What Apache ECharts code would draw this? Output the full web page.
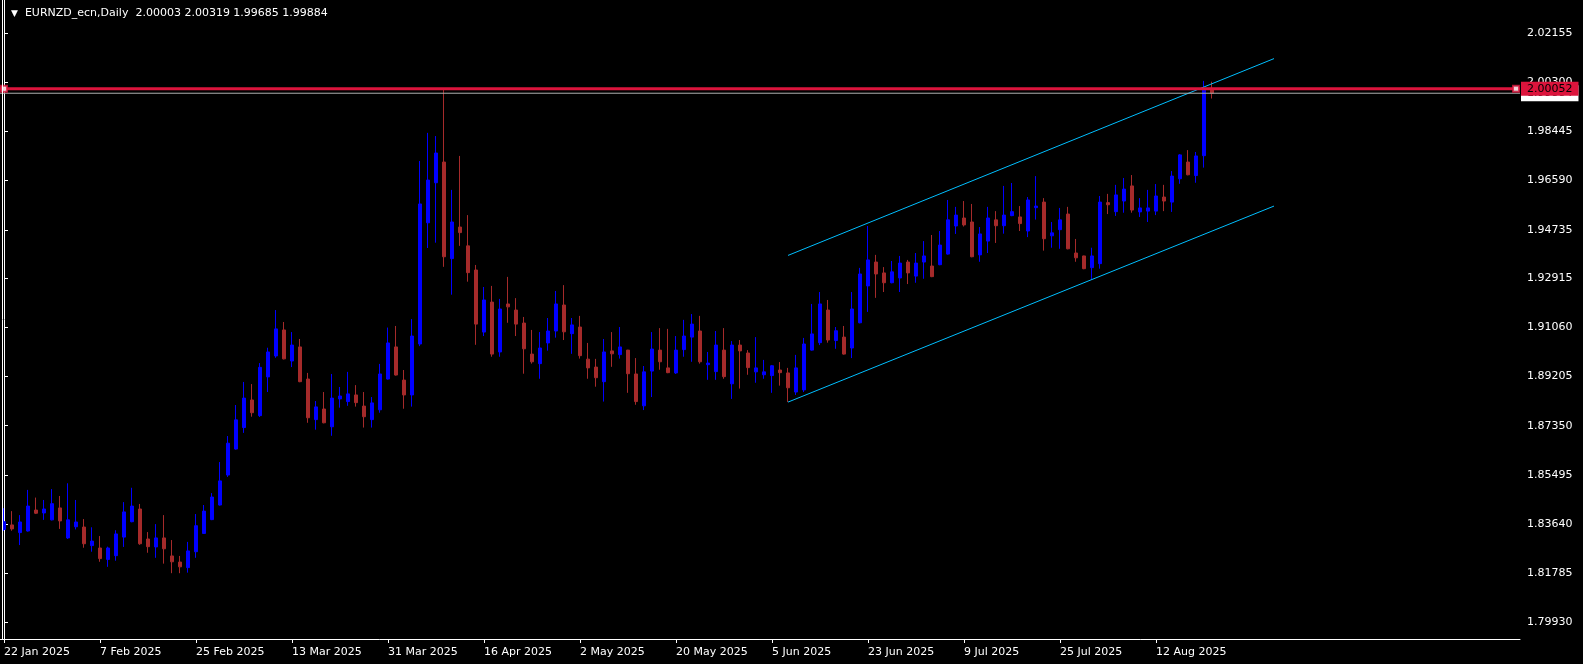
<!DOCTYPE html>
<html><head><meta charset="utf-8">
<script src="https://cdn.jsdelivr.net/npm/echarts@6/dist/echarts.min.js"></script>
<style>html,body{margin:0;padding:0;background:#000;}#c{width:1583px;height:664px;}</style>
</head><body><div id="c"></div>
<script>
const symbolName = 'EURNZD_ecn,Daily';
const firstDay = '2025-01-22';
const totalSlots = 190;

const open = [1.8344,1.8361,1.8332,1.8338,1.8417,1.8406,1.8380,1.8425,1.8312,1.8354,
1.8353,1.8283,1.8274,1.8231,1.8245,1.8315,1.8373,1.8421,1.8308,1.8278,
1.8312,1.8244,1.8221,1.8200,1.8260,1.8329,1.8381,1.8436,1.8549,1.8647,
1.8728,1.8832,1.8773,1.8919,1.8998,1.9096,1.8979,1.9032,1.8911,1.8758,
1.8798,1.8731,1.8836,1.8826,1.8851,1.8809,1.8758,1.8795,1.8911,1.9032,
1.8907,1.8851,1.9043,1.9500,1.9651,1.9729,1.9365,1.9484,1.9413,1.9322,
1.9088,1.9201,1.9013,1.9194,1.9171,1.9122,1.9005,1.8969,1.9047,1.9092,
1.9190,1.9082,1.9107,1.8986,1.8956,1.8901,1.9017,1.9003,1.9020,1.8930,
1.8810,1.8941,1.9020,1.8953,1.8934,1.9022,1.9069,1.9092,1.8965,1.8939,
1.9020,1.8893,1.9039,1.9009,1.8938,1.8927,1.8924,1.8945,1.8934,1.8862,
1.8870,1.9020,1.9048,1.9171,1.9056,1.9069,1.9028,1.9123,1.9262,1.9352,
1.9311,1.9274,1.9292,1.9352,1.9299,1.9352,1.9337,1.9342,1.9382,1.9488,
1.9518,1.9503,1.9379,1.9431,1.9511,1.9489,1.9527,1.9522,1.9469,1.9557,
1.9578,1.9451,1.9474,1.9533,1.9386,1.9375,1.9331,1.9346,1.9576,1.9542,
1.9582,1.9639,1.9541,1.9544,1.9544,1.9597,1.9578,1.9666,1.9729,1.9678,
1.9753,2.00003];

const close = [1.8373,1.8346,1.8372,1.8432,1.8405,1.8421,1.8441,1.8376,1.8380,1.8372,
1.8290,1.8300,1.8234,1.8274,1.8327,1.8410,1.8432,1.8290,1.8279,1.8312,
1.8271,1.8222,1.8203,1.8263,1.8358,1.8413,1.8466,1.8527,1.8669,1.8757,
1.8839,1.8784,1.8955,1.9013,1.9100,1.8987,1.9039,1.8901,1.8765,1.8806,
1.8746,1.8839,1.8847,1.8855,1.8822,1.8769,1.8821,1.8930,1.9047,1.8926,
1.8851,1.9073,1.9571,1.9661,1.9763,1.9372,1.9503,1.9463,1.9312,1.9118,
1.9209,1.9005,1.9175,1.9183,1.9118,1.9025,1.8976,1.9028,1.9092,1.9194,
1.9089,1.9115,1.8999,1.8953,1.8916,1.9013,1.9006,1.9032,1.8931,1.8826,
1.8938,1.9024,1.8976,1.8935,1.9020,1.9073,1.9118,1.8976,1.8971,1.9039,
1.8920,1.9039,1.9017,1.8954,1.8953,1.8938,1.8961,1.8935,1.8878,1.8953,
1.9043,1.9081,1.9194,1.9058,1.9093,1.9005,1.9175,1.9307,1.9360,1.9307,
1.9274,1.9315,1.9348,1.9311,1.9348,1.9375,1.9297,1.9416,1.9511,1.9529,
1.9492,1.9372,1.9458,1.9518,1.9489,1.9529,1.9542,1.9497,1.9586,1.9563,
1.9440,1.9462,1.9511,1.9402,1.9368,1.9327,1.9375,1.9578,1.9568,1.9605,
1.9627,1.9548,1.9556,1.9556,1.9601,1.9582,1.9676,1.9756,1.9681,1.9752,
2.0000,1.99884];

const low = [1.8338,1.8339,1.8285,1.8336,1.8402,1.8380,1.8378,1.8346,1.8308,1.8344,
1.8275,1.8260,1.8222,1.8203,1.8226,1.8278,1.8371,1.8286,1.8256,1.8237,
1.8215,1.8179,1.8179,1.8181,1.8237,1.8327,1.8379,1.8434,1.8542,1.8645,
1.8708,1.8769,1.8768,1.8862,1.8991,1.8985,1.8956,1.8899,1.8746,1.8720,
1.8744,1.8697,1.8803,1.8810,1.8807,1.8728,1.8728,1.8784,1.8909,1.8924,
1.8799,1.8807,1.9035,1.9405,1.9425,1.9334,1.9229,1.9413,1.9278,1.9040,
1.9073,1.8995,1.8995,1.9123,1.9073,1.8931,1.8969,1.8912,1.9018,1.9067,
1.9058,1.9006,1.8988,1.8912,1.8882,1.8826,1.8957,1.8988,1.8859,1.8814,
1.8794,1.8843,1.8946,1.8933,1.8930,1.8995,1.8976,1.8969,1.8908,1.8908,
1.8912,1.8836,1.8875,1.8927,1.8897,1.8912,1.8859,1.8886,1.8824,1.8851,
1.8862,1.9018,1.9039,1.9048,1.9025,1.9003,1.8990,1.9121,1.9164,1.9217,
1.9239,1.9272,1.9239,1.9269,1.9274,1.9289,1.9295,1.9340,1.9380,1.9458,
1.9486,1.9370,1.9353,1.9386,1.9424,1.9459,1.9525,1.9469,1.9446,1.9512,
1.9395,1.9406,1.9402,1.9400,1.9353,1.9325,1.9285,1.9327,1.9533,1.9526,
1.9538,1.9538,1.9522,1.9503,1.9529,1.9544,1.9541,1.9647,1.9679,1.9651,
1.9708,1.99685];

const high = [1.8424,1.8413,1.8398,1.8493,1.8464,1.8455,1.8496,1.8470,1.8518,1.8455,
1.8383,1.8352,1.8319,1.8279,1.8341,1.8447,1.8501,1.8440,1.8334,1.8364,
1.8398,1.8304,1.8244,1.8297,1.8402,1.8436,1.8481,1.8598,1.8696,1.8813,
1.8900,1.8892,1.8971,1.9029,1.9171,1.9126,1.9088,1.9062,1.8934,1.8828,
1.8862,1.8930,1.8881,1.8938,1.8888,1.8862,1.8843,1.8968,1.9105,1.9111,
1.8945,1.9137,1.9733,1.9839,1.9827,2.0001,1.9624,1.9752,1.9529,1.9341,
1.9258,1.9262,1.9213,1.9296,1.9216,1.9145,1.9096,1.9088,1.9141,1.9243,
1.9265,1.9141,1.9149,1.9047,1.8987,1.9062,1.9088,1.9107,1.9021,1.8990,
1.8960,1.9088,1.9103,1.9100,1.9073,1.9134,1.9156,1.9149,1.9013,1.9092,
1.9103,1.9054,1.9058,1.9020,1.9069,1.8983,1.8964,1.8975,1.8953,1.9002,
1.9066,1.9194,1.9239,1.9209,1.9107,1.9111,1.9239,1.9330,1.9488,1.9379,
1.9333,1.9356,1.9375,1.9360,1.9386,1.9431,1.9454,1.9469,1.9586,1.9560,
1.9582,1.9571,1.9484,1.9560,1.9544,1.9639,1.9650,1.9563,1.9597,1.9676,
1.9593,1.9503,1.9556,1.9560,1.9439,1.9376,1.9406,1.9601,1.9609,1.9643,
1.9669,1.9680,1.9593,1.9624,1.9646,1.9643,1.9695,1.9759,1.9774,1.9767,
2.0035,2.00319];

const yTickValues = [1.79930,1.81785,1.83640,1.85495,1.87350,1.89205,1.91060,1.92915,1.94735,1.96590,1.98445,2.00300,2.02155];
const yTickLabels = ['1.79930','1.81785','1.83640','1.85495','1.87350','1.89205','1.91060','1.92915','1.94735','1.96590','1.98445','2.00300','2.02155'];
const xTickLabels = ['22 Jan 2025','7 Feb 2025','25 Feb 2025','13 Mar 2025','31 Mar 2025','16 Apr 2025','2 May 2025','20 May 2025','5 Jun 2025','23 Jun 2025','9 Jul 2025','25 Jul 2025','12 Aug 2025'];
const xTickEvery = 12;
const hLinePrice = 2.00052;
const channelUpper = [[98, 1.9377], [158.75, 2.0119]];
const channelLower = [[98, 1.8824], [158.75, 1.9563]];

const FONT = 'DejaVu Sans';
const n = open.length;
const categories = [];
const d = new Date(firstDay + 'T00:00:00Z');
while (categories.length < n) {
  const wd = d.getUTCDay();
  if (wd !== 0 && wd !== 6) categories.push(d.toISOString().slice(0, 10));
  d.setUTCDate(d.getUTCDate() + 1);
}
for (let i = n; i < totalSlots; i++) categories.push('_' + i);
const candles = open.map((o, i) => [o, close[i], low[i], high[i]]);
const last = n - 1;
const bid = close[last];
const header = '{t|▼}  ' + symbolName + '  ' +
  [open[last], high[last], low[last], close[last]].map(v => v.toFixed(5)).join(' ');
const showTick = (i) => i % xTickEvery === 0 && i < n;
const xLo = -0.5, xHi = totalSlots - 0.5;

const chart = echarts.init(document.getElementById('c'), null, {renderer: 'canvas'});
chart.setOption({
  backgroundColor: '#000000',
  animation: false,
  textStyle: {fontFamily: FONT},
  title: {
    text: header, left: 6, top: 3,
    textStyle: {color: '#ffffff', fontSize: 11, fontWeight: 'normal', fontFamily: FONT,
      rich: {t: {fontSize: 9, color: '#ffffff', fontFamily: FONT}}}
  },
  grid: {left: 0, top: 0, width: 1520, height: 639, containLabel: false},
  xAxis: [
    {
      type: 'category', data: categories, boundaryGap: true,
      axisLine: {show: true, lineStyle: {color: '#ffffff', width: 1}},
      axisTick: {show: true, alignWithLabel: true, interval: (i) => showTick(i), length: 4, lineStyle: {color: '#ffffff'}},
      axisLabel: {show: true, interval: (i) => showTick(i), formatter: (v, i) => xTickLabels[i / xTickEvery] || '',
        color: '#ffffff', fontSize: 11, align: 'left', margin: 8, fontFamily: FONT},
      splitLine: {show: false}
    },
    {type: 'value', min: xLo, max: xHi, show: false}
  ],
  yAxis: {
    type: 'value', position: 'right', min: 1.79309, max: 2.03399,
    axisLine: {show: true, lineStyle: {color: '#ffffff', width: 1}},
    axisTick: {show: true, customValues: yTickValues, length: 4, lineStyle: {color: '#ffffff'}},
    axisLabel: {show: true, customValues: yTickValues, color: '#ffffff', fontSize: 11, margin: 7, fontFamily: FONT,
      formatter: (v) => {
        let best = 0;
        yTickValues.forEach((t, k) => { if (Math.abs(t - v) < Math.abs(yTickValues[best] - v)) best = k; });
        return yTickLabels[best];
      }},
    splitLine: {show: false}
  },
  series: [
    {
      type: 'candlestick', data: candles, barWidth: 4, silent: true, z: 2,
      itemStyle: {color: '#0000ff', color0: '#a52a2a', borderColor: '#0000ff', borderColor0: '#a52a2a', borderWidth: 1}
    },
    {
      name: 'bid', type: 'line', xAxisIndex: 1, data: [[xLo, bid], [xHi, bid]], symbol: 'none', silent: true, z: 4,
      clip: false,
      lineStyle: {color: '#b0b0b0', width: 1},
      endLabel: {show: true, distance: 1, formatter: () => bid.toFixed(5),
        backgroundColor: '#ffffff', color: '#000000', fontSize: 11, fontFamily: FONT, padding: [3, 6, 2, 6]}
    },
    {
      type: 'line', xAxisIndex: 1, data: channelUpper, symbol: 'none', silent: true, z: 3,
      lineStyle: {color: '#00bfff', width: 1}
    },
    {
      name: 'hline', type: 'line', xAxisIndex: 1, data: [[xLo, hLinePrice], [xHi, hLinePrice]], symbol: 'none', silent: true, z: 6,
      clip: false,
      lineStyle: {color: '#dc143c', width: 3},
      endLabel: {show: true, distance: 1, formatter: () => hLinePrice.toFixed(5),
        backgroundColor: '#dc143c', color: '#000000', fontSize: 11, fontFamily: FONT, padding: [2, 6, 1, 6]}
    },
    {
      type: 'line', xAxisIndex: 1, data: channelLower, symbol: 'none', silent: true, z: 3,
      lineStyle: {color: '#00bfff', width: 1}
    },
    {
      type: 'scatter', xAxisIndex: 1, data: [[0, hLinePrice], [totalSlots - 1, hLinePrice]],
      symbol: 'rect', symbolSize: 6, silent: true, z: 7,
      itemStyle: {color: '#ffffff', borderColor: '#dc143c', borderWidth: 2}
    },
    {
      type: 'line', xAxisIndex: 1, data: [], silent: true,
      markLine: {silent: true, symbol: 'none', z: 8, animation: false, label: {show: false},
        data: [{xAxis: -0.25}], lineStyle: {color: '#ffffff', width: 1, type: 'solid'}}
    }
  ]
});
</script></body></html>
